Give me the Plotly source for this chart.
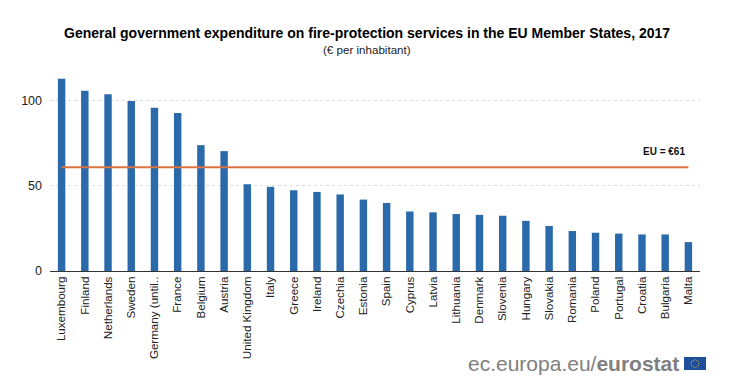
import math
import plotly.graph_objects as go

countries = ["Luxembourg", "Finland", "Netherlands", "Sweden", "Germany (until..", "France", "Belgium", "Austria",
             "United Kingdom", "Italy", "Greece", "Ireland", "Czechia", "Estonia", "Spain", "Cyprus", "Latvia",
             "Lithuania", "Denmark", "Slovenia", "Hungary", "Slovakia", "Romania", "Poland", "Portugal", "Croatia",
             "Bulgaria", "Malta"]
expenditure = [113, 106, 104, 100, 96, 93, 74, 70.5, 51, 49.5, 47.5, 46.5, 45, 42, 40, 35, 34.5, 33.5, 33, 32.5,
               29.5, 26.5, 23.5, 22.5, 22, 21.5, 21.5, 17]
eu_average = [61] * len(countries)

OFF = 8  # the page's body margin
W, H = 743 - OFF, 379 - OFF
L, R, T, B = 50, 700, 60, 271
FONT = "Liberation Sans, Arial, sans-serif"


def px(x):
    return (x - L) / (R - L)


def py(y):
    return (B - y) / (B - T)


fig = go.Figure()
fig.add_bar(x=countries, y=expenditure, marker=dict(color="#2a69aa", line_width=0), width=0.32)
fig.add_scatter(x=countries, y=eu_average, mode="lines", line=dict(color="#dd7240", width=2), hoverinfo="skip")

shapes = [dict(type="rect", xref="paper", yref="paper", x0=px(684), x1=px(706), y0=py(370), y1=py(357),
               fillcolor="#1f4e9c", line_width=0)]
for k in range(12):
    a = 2 * math.pi * k / 12
    cx, cy = 695 + 3.8 * math.cos(a), 363.5 + 3.8 * math.sin(a)
    shapes.append(dict(type="circle", xref="paper", yref="paper", x0=px(cx - .5), x1=px(cx + .5),
                       y0=py(cy + .5), y1=py(cy - .5), fillcolor="#e8d33a", line_width=0))

annotations = [
    dict(text="<b>General government expenditure on fire-protection services in the EU Member States, 2017</b>",
         x=px(367), y=py(33), font=dict(size=14, color="#000000")),
    dict(text="(€ per inhabitant)", x=px(367), y=py(49), font=dict(size=11.6, color="#222222")),
    dict(text="<b>EU = €61</b>", x=px(663.5), y=py(151), font=dict(size=10, color="#111111")),
    dict(text="ec.europa.eu/<b>eurostat</b>", x=px(681), y=py(363), xanchor="right",
         font=dict(size=21, color="#808080")),
]
for a in annotations:
    a.update(xref="paper", yref="paper", showarrow=False)
    a.setdefault("xanchor", "center")
    a["yanchor"] = "middle"
    a["font"]["family"] = FONT

fig.update_layout(
    width=W, height=H, autosize=False, showlegend=False, plot_bgcolor="white", paper_bgcolor="white",
    margin=dict(l=L - OFF, r=W + OFF - R, t=T - OFF, b=H + OFF - B, pad=0), font=dict(family=FONT, color="#222222"),
    shapes=shapes, annotations=annotations,
    xaxis=dict(tickangle=-90, tickfont=dict(size=11.6), ticks="", showline=True, linecolor="#333333", linewidth=1,
               showgrid=False, automargin=False),
    yaxis=dict(range=[0, 124.1], tickvals=[0, 50, 100], tickfont=dict(size=12.5), ticks="", showline=False,
               gridcolor="#dcdcdc", griddash="dot", gridwidth=1, zeroline=False, automargin=False, ticklen=0,
               ticklabelstandoff=7),
)
fig.write_html("out.html")
